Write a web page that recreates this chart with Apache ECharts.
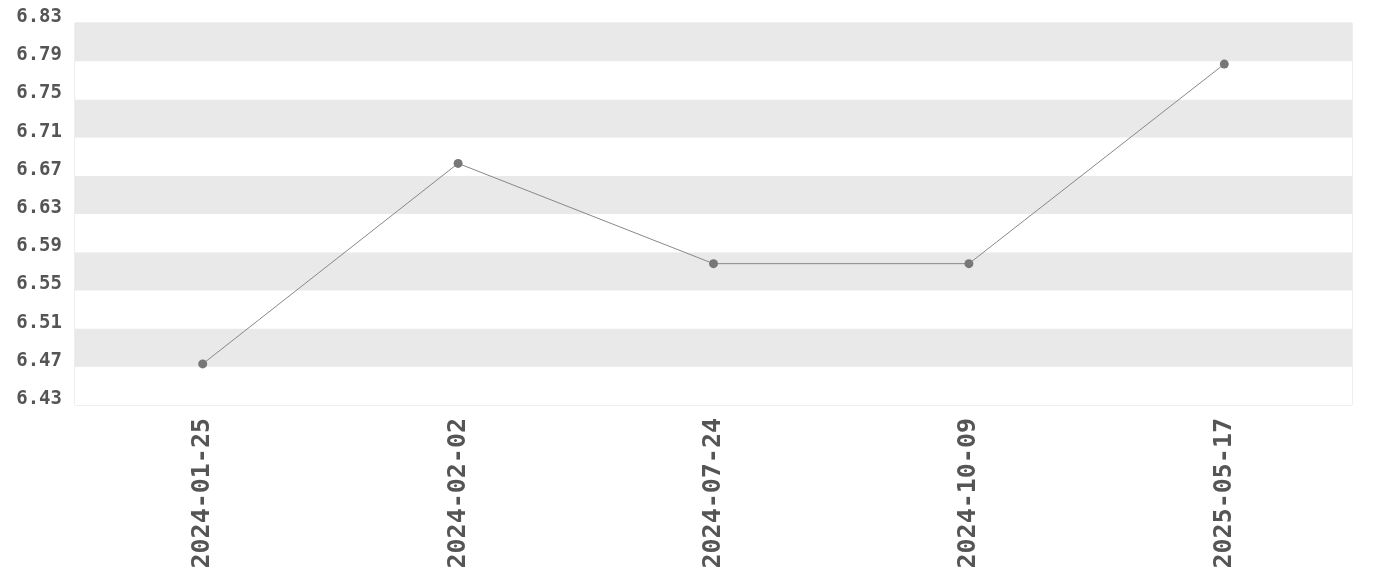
<!DOCTYPE html>
<html><head><meta charset="utf-8">
<script src="https://cdn.jsdelivr.net/npm/echarts@6/dist/echarts.min.js"></script>
<style>html,body{margin:0;padding:0;background:#fff}#c{width:1380px;height:580px}</style>
</head><body><div id="c"></div>
<script>
const categories = ['2024-01-25','2024-02-02','2024-07-24','2024-10-09','2025-05-17'];
const values = [6.473, 6.683, 6.578, 6.578, 6.787];
const yMin = 6.43, yMax = 6.83, yStep = 0.04;
const font = '"DejaVu Sans Mono", monospace';
const chart = echarts.init(document.getElementById('c'));
chart.setOption({
  animation: false,
  backgroundColor: '#fff',
  grid: { left: 75, right: 28, top: 23, bottom: 175, show: true, borderColor: '#dddddd', borderWidth: 1, containLabel: false },
  xAxis: {
    type: 'category', data: categories, boundaryGap: true,
    axisLine: { show: false }, axisTick: { show: false },
    axisLabel: { rotate: 90, color: '#555', fontFamily: font, fontWeight: 'bold', fontSize: 25, margin: 13 },
    splitLine: { show: false }
  },
  yAxis: {
    type: 'value', min: yMin, max: yMax, interval: yStep,
    axisLine: { show: false }, axisTick: { show: false },
    axisLabel: { color: '#555', fontFamily: font, fontWeight: 'bold', fontSize: 19, margin: 13,
      verticalAlign: 'bottom', lineHeight: 12,
      formatter: v => v.toFixed(2) },
    splitLine: { show: false },
    splitArea: { show: true, areaStyle: { color: ['#ffffff', '#e9e9e9'] } }
  },
  series: [{
    type: 'line', data: values, symbol: 'circle', symbolSize: 9,
    lineStyle: { color: '#888', width: 1 },
    itemStyle: { color: '#777' }
  }]
});
</script></body></html>
